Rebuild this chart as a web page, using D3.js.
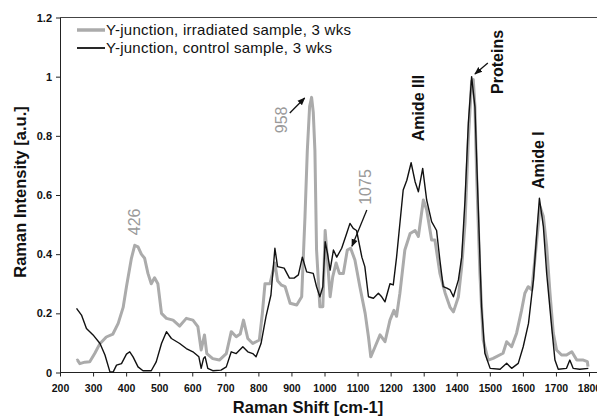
<!DOCTYPE html>
<html>
<head>
<meta charset="utf-8">
<script src="https://cdn.jsdelivr.net/npm/d3@7"></script>
<style>
  body { margin: 0; background: #fff; }
  svg { font-family: "Liberation Sans", Arial, sans-serif; }
</style>
</head>
<body>
<div class="vis"></div>
<script>
// irradiated sample (gray)
const irradShift = [250,253,260,275,290,305,320,340,360,376,391,401,416,426,436,446,456,466,476,486,496,507,522,542,562,582,602,617,627,637,644,662,682,703,718,733,745,755,768,783,803,812,820,835,850,858,870,881,896,916,931,941,948,955,961,966,971,976,986,995,1002,1009,1017,1025,1035,1045,1057,1069,1079,1092,1107,1123,1133,1140,1153,1168,1183,1198,1210,1218,1228,1243,1259,1274,1284,1299,1309,1324,1334,1349,1365,1380,1390,1405,1415,1425,1435,1445,1450,1455,1460,1470,1480,1495,1510,1540,1551,1566,1581,1596,1606,1616,1627,1637,1652,1662,1672,1682,1692,1702,1717,1732,1748,1763,1783,1795,1797];
const irradValue = [0.04,0.042,0.03,0.035,0.036,0.064,0.096,0.12,0.13,0.166,0.22,0.29,0.386,0.43,0.425,0.40,0.386,0.335,0.30,0.32,0.30,0.20,0.183,0.177,0.157,0.183,0.177,0.155,0.076,0.127,0.064,0.047,0.042,0.064,0.138,0.121,0.13,0.177,0.115,0.098,0.11,0.2,0.30,0.30,0.37,0.31,0.295,0.29,0.234,0.228,0.256,0.527,0.75,0.90,0.93,0.88,0.75,0.414,0.222,0.222,0.48,0.38,0.256,0.324,0.37,0.335,0.335,0.414,0.42,0.38,0.29,0.20,0.12,0.053,0.087,0.127,0.104,0.177,0.21,0.19,0.268,0.414,0.47,0.48,0.46,0.583,0.55,0.448,0.448,0.335,0.268,0.22,0.205,0.256,0.358,0.504,0.786,0.985,0.99,0.90,0.673,0.335,0.11,0.042,0.048,0.065,0.104,0.087,0.133,0.21,0.268,0.29,0.279,0.39,0.56,0.527,0.425,0.268,0.133,0.076,0.059,0.059,0.07,0.042,0.042,0.037,0.02];

// control sample (black)
const controlShift = [250,265,280,300,321,336,351,361,371,386,401,411,421,436,451,476,491,507,522,537,562,582,602,620,627,634,639,647,662,687,703,718,733,753,768,783,793,808,823,838,850,858,878,894,908,921,933,946,966,976,986,995,1002,1009,1017,1027,1037,1052,1067,1077,1087,1097,1113,1122,1133,1148,1163,1173,1183,1198,1208,1218,1238,1249,1262,1274,1284,1297,1309,1324,1339,1349,1359,1370,1380,1390,1405,1415,1425,1435,1445,1455,1465,1475,1485,1501,1531,1551,1566,1586,1601,1617,1632,1642,1650,1662,1672,1687,1697,1707,1732,1742,1752,1772,1798];
const controlValue = [0.217,0.194,0.149,0.127,0.098,0.059,0.002,0.002,0.025,0.03,0.062,0.07,0.053,0.019,0.006,0.006,0.036,0.098,0.138,0.115,0.098,0.081,0.07,0.053,0.014,0.047,0.053,0.014,0.006,0.008,0.019,0.07,0.064,0.087,0.07,0.064,0.053,0.098,0.189,0.262,0.42,0.358,0.353,0.319,0.319,0.33,0.39,0.34,0.335,0.29,0.256,0.29,0.442,0.403,0.346,0.414,0.39,0.42,0.47,0.504,0.487,0.48,0.39,0.358,0.256,0.251,0.268,0.256,0.239,0.30,0.296,0.39,0.617,0.65,0.709,0.645,0.611,0.69,0.583,0.51,0.48,0.38,0.29,0.285,0.279,0.256,0.313,0.39,0.583,0.842,1.0,0.898,0.56,0.222,0.065,0.014,0.011,0.031,0.014,0.031,0.087,0.166,0.313,0.47,0.589,0.493,0.335,0.155,0.042,0.011,0.014,0.042,0.014,0.011,0.014];

const xTicks = [200,300,400,500,600,700,800,900,1000,1100,1200,1300,1400,1500,1600,1700,1800];
const yTicks = [0,0.2,0.4,0.6,0.8,1,1.2];
const yTickLabels = ["0","0.2","0.4","0.6","0.8","1","1.2"];

const seriesNames = ["Y-junction, irradiated sample, 3 wks", "Y-junction, control sample, 3 wks"];

// peak labels: text, shift, intensity, style
const peakLabels = [
    {text: "426", x: 426, y: 0.509, gray: true},
    {text: "958", x: 870, y: 0.854, gray: true},
    {text: "1075", x: 1125, y: 0.627, gray: true},
    {text: "Amide III", x: 1283, y: 0.894, gray: false},
    {text: "Proteins", x: 1522, y: 1.05, gray: false},
    {text: "Amide I", x: 1646, y: 0.718, gray: false}
];
// arrows: from -> to in data coords
const arrows = [
    {x1: 895, y1: 0.877, x2: 940, y2: 0.928},
    {x1: 1128, y1: 0.549, x2: 1083, y2: 0.427},
    {x1: 1494, y1: 1.046, x2: 1455, y2: 1.009}
];

const W = 597, H = 420;
const margin = {top: 17.5, right: 8, bottom: 47.5, left: 60};

const svg = d3.select('.vis').append('svg')
    .attr('width', W)
    .attr('height', H);

const x = d3.scaleLinear().domain([200, 1800]).range([margin.left, W - margin.right]);
const y = d3.scaleLinear().domain([0, 1.2]).range([H - margin.bottom, margin.top]);

svg.append('defs').append('marker')
    .attr('id', 'arr')
    .attr('viewBox', '0 0 10 10')
    .attr('refX', 9).attr('refY', 5)
    .attr('markerWidth', 6).attr('markerHeight', 6)
    .attr('orient', 'auto')
    .append('path')
    .attr('d', 'M0,1 L10,5 L0,9 Z')
    .attr('fill', '#111');

// top frame line
svg.append('line')
    .attr('x1', x(200)).attr('x2', W)
    .attr('y1', y(1.2)).attr('y2', y(1.2))
    .attr('stroke', '#444').attr('stroke-width', 1);

// x axis
const xAxis = svg.append('g')
    .attr('transform', 'translate(0,' + y(0) + ')')
    .call(d3.axisBottom(x).tickValues(xTicks).tickSize(4).tickSizeOuter(0).tickFormat(d3.format('d')));
xAxis.select('.domain').remove();
xAxis.append('line')
    .attr('x1', x(200)).attr('x2', W)
    .attr('stroke', '#222');
xAxis.selectAll('.tick line').attr('stroke', '#222');
xAxis.selectAll('text')
    .attr('font-size', '10.5px').attr('font-weight', 'bold').attr('fill', '#111')
    .attr('font-family', '"Liberation Sans", Arial, sans-serif')
    .attr('dy', '1.15em');

// y axis
const yAxis = svg.append('g')
    .attr('transform', 'translate(' + x(200) + ',0)')
    .call(d3.axisLeft(y).tickValues(yTicks).tickSize(4).tickSizeOuter(0)
        .tickFormat((d, i) => yTickLabels[i]));
yAxis.select('.domain').attr('stroke', '#222');
yAxis.selectAll('.tick line').attr('stroke', '#222');
yAxis.selectAll('text')
    .attr('font-size', '11px').attr('font-weight', 'bold').attr('fill', '#111')
    .attr('font-family', '"Liberation Sans", Arial, sans-serif')
    .attr('x', -8);

// axis titles
svg.append('text')
    .attr('x', 308).attr('y', 413)
    .attr('text-anchor', 'middle')
    .attr('font-size', '16.5px').attr('font-weight', 'bold').attr('fill', '#111')
    .text('Raman Shift [cm-1]');

svg.append('text')
    .attr('transform', 'translate(26,192) rotate(-90)')
    .attr('text-anchor', 'middle')
    .attr('font-size', '16.5px').attr('font-weight', 'bold').attr('fill', '#111')
    .text('Raman Intensity [a.u.]');

// curves
const line = d3.line()
    .x(d => x(d[0]))
    .y(d => y(d[1]));

svg.append('path')
    .datum(d3.zip(irradShift, irradValue))
    .attr('d', line)
    .attr('fill', 'none')
    .attr('stroke', '#ababab')
    .attr('stroke-width', 3)
    .attr('stroke-linejoin', 'round');

svg.append('path')
    .datum(d3.zip(controlShift, controlValue))
    .attr('d', line)
    .attr('fill', 'none')
    .attr('stroke', '#111')
    .attr('stroke-width', 1.4)
    .attr('stroke-linejoin', 'round');

// peak labels
svg.selectAll('.peak')
    .data(peakLabels)
    .enter().append('text')
    .attr('class', 'peak')
    .attr('transform', d => 'translate(' + x(d.x) + ',' + y(d.y) + ') rotate(-90)')
    .attr('text-anchor', 'middle')
    .attr('dominant-baseline', 'central')
    .attr('font-size', '16px')
    .attr('font-weight', d => d.gray ? 'normal' : 'bold')
    .attr('fill', d => d.gray ? '#9a9a9a' : '#111')
    .text(d => d.text);

svg.selectAll('.arrow')
    .data(arrows)
    .enter().append('line')
    .attr('class', 'arrow')
    .attr('x1', d => x(d.x1)).attr('y1', d => y(d.y1))
    .attr('x2', d => x(d.x2)).attr('y2', d => y(d.y2))
    .attr('stroke', '#111').attr('stroke-width', 1.3)
    .attr('marker-end', 'url(#arr)');

// legend
const legendWidths = [245, 226];
const legend = svg.append('g').attr('transform', 'translate(77,30)');
seriesNames.forEach((name, i) => {
    const g = legend.append('g').attr('transform', 'translate(0,' + (i * 18) + ')');
    g.append('line')
        .attr('x1', 0).attr('x2', 28)
        .attr('stroke', i === 0 ? '#ababab' : '#111')
        .attr('stroke-width', i === 0 ? 3.5 : 1.8);
    g.append('text')
        .attr('x', 29).attr('y', 5)
        .attr('font-size', '15px').attr('fill', '#111')
        .attr('textLength', legendWidths[i])
        .attr('lengthAdjust', 'spacing')
        .text(name);
});
</script>
</body>
</html>
